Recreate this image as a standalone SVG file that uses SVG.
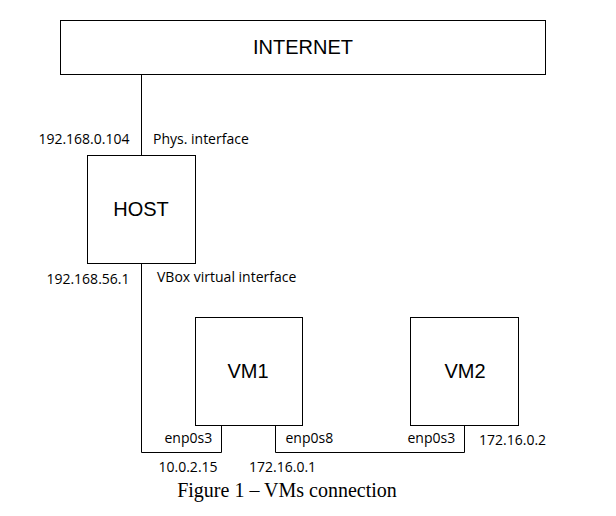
<svg xmlns="http://www.w3.org/2000/svg" width="616" height="516" viewBox="0 0 616 516">
<style>
.box{fill:#fff;stroke:#000;stroke-width:1}
.lbl{font-family:"Liberation Sans",Arial,sans-serif;font-size:20px;fill:#000;text-anchor:middle}
.small{font-family:"Open Sans","Noto Sans",sans-serif;font-size:14px;fill:#000}
.end{text-anchor:end}
.wire{fill:none;stroke:#000;stroke-width:1}
.cap{font-family:"Liberation Serif","Times New Roman",serif;font-size:20px;fill:#000;text-anchor:middle}
</style>
<rect width="616" height="516" fill="#fff"/>
<g id="connectors">
<path class="wire" d="M141.5 74.5V155.5"/>
<path class="wire" d="M141.5 263.5V452.5H221.5V425.5"/>
<path class="wire" d="M275.5 425.5V452.5H464.5V425.5"/>
</g>
<g id="internet">
<rect class="box" x="60.5" y="20.5" width="485" height="54"/>
<text class="lbl" x="303" y="54">INTERNET</text>
</g>
<g id="host">
<rect class="box" x="87.5" y="155.5" width="108" height="108"/>
<text class="lbl" x="141" y="216">HOST</text>
</g>
<g id="vm1">
<rect class="box" x="195.5" y="317.5" width="107" height="108"/>
<text class="lbl" x="248" y="378">VM1</text>
</g>
<g id="vm2">
<rect class="box" x="410.5" y="317.5" width="108" height="108"/>
<text class="lbl" x="465" y="378">VM2</text>
</g>
<g id="labels">
<text class="small end" x="129.5" y="144">192.168.0.104</text>
<text class="small" x="153" y="144">Phys. interface</text>
<text class="small end" x="129.5" y="284">192.168.56.1</text>
<text class="small" x="157" y="282">VBox virtual interface</text>
<text class="small" x="164.5" y="443">enp0s3</text>
<text class="small" x="285.5" y="443">enp0s8</text>
<text class="small" x="407.5" y="443">enp0s3</text>
<text class="small" x="479" y="445">172.16.0.2</text>
<text class="small" x="158.5" y="472">10.0.2.15</text>
<text class="small" x="249" y="472">172.16.0.1</text>
</g>
<text class="cap" x="287" y="497">Figure 1 – VMs connection</text>
</svg>
